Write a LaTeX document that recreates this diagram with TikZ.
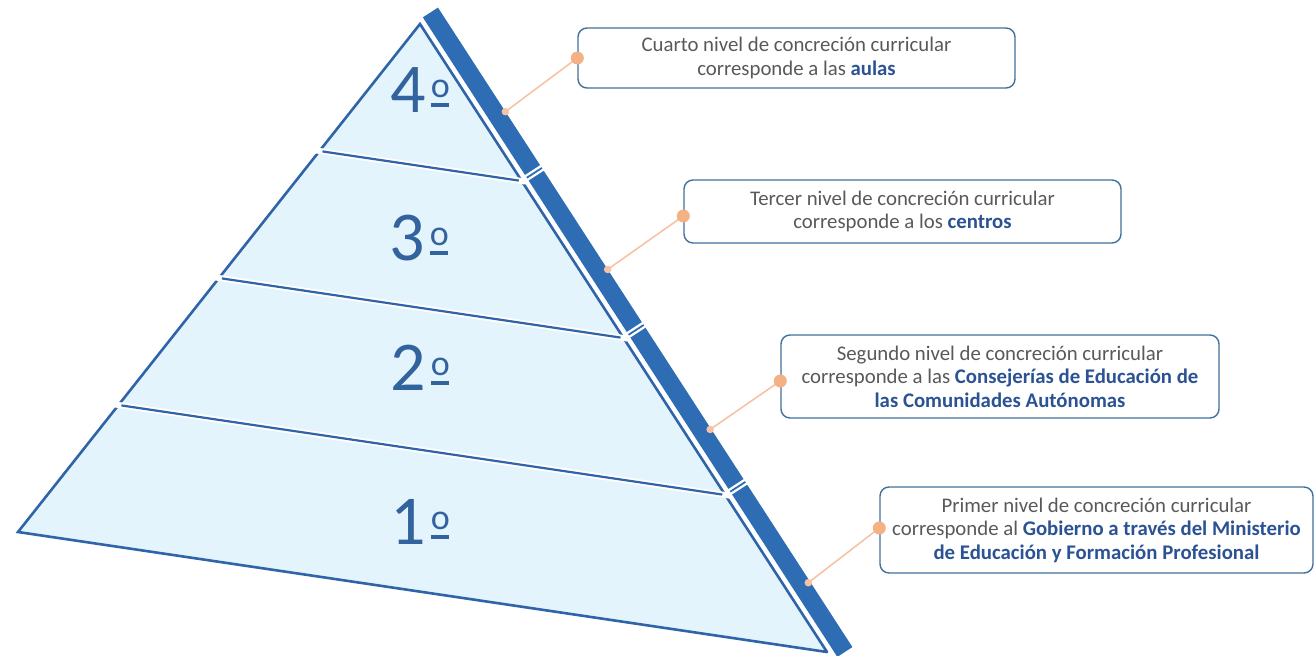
\documentclass[tikz,border=0pt]{standalone}
\usepackage{fontspec}
\setmainfont{Carlito}
\usetikzlibrary{calc}
\definecolor{pblue}{HTML}{2E6DB4}
\definecolor{pline}{HTML}{2F64A8}
\definecolor{pfill}{HTML}{E4F4FC}
\definecolor{numc}{HTML}{33639E}
\definecolor{txtg}{HTML}{595959}
\definecolor{boldb}{HTML}{2B5394}
\definecolor{boxb}{HTML}{41719C}
\definecolor{peach}{HTML}{F4B183}
\definecolor{peachl}{HTML}{F6C3A4}
\newcommand\defbp[3]{\coordinate (#1) at ({420+0.5439*(#2)+0.8392*(#3)},{24+0.8392*(#2)-0.5439*(#3)});}
\newcommand\bl[1]{{\bfseries\color{boldb}#1}}
\newcommand\ordm{\kern5pt\rlap{\kern0.5pt\rule[5.5pt]{18pt}{3.6pt}}\raisebox{14.5pt}{\fontsize{36}{36}\selectfont o}}
\tikzset{
  edge/.style={draw=pline, line width=2.6pt, line cap=round},
  divw/.style={draw=white, line width=6pt},
  divb/.style={draw=pline, line width=2.2pt},
  cutw/.style={draw=white, line width=6.5pt},
  cutb/.style={draw=pblue, line width=1.8pt},
  infobox/.style={draw=boxb, line width=1.4pt, rounded corners=9pt, fill=white,
    align=center, text=txtg, font=\fontsize{20.8}{23.5}\selectfont, inner sep=0pt},
  num/.style={text=numc, font=\fontsize{70}{70}\selectfont, anchor=base, inner sep=0pt},
  conn/.style={draw=peachl, line width=1.6pt},
  bigdot/.style={fill=peach},
  smalldot/.style={fill=peachl}
}
\begin{document}
\begin{tikzpicture}[x=1pt,y=-1pt]
\useasboundingbox (0,0) rectangle (1315,656);
% pyramid corners
\coordinate (A) at (420,24);
\coordinate (C) at (18,532);
\coordinate (B) at (827,652);
\fill[pfill] (A) -- (C) -- (B) -- cycle;
\draw[edge] (B) -- (A) -- (C) -- (B);
% dividers
\foreach \k/\f in {1/0.25,2/0.5,3/0.75}{
  \coordinate (D\k) at ($(A)!\f!(C)$);
  \coordinate (E\k) at ($(A)!\f!(B)$);
  \draw[divw] ($(D\k)!-5pt!(E\k)$) -- ($(E\k)!-4pt!(D\k)$);
  \draw[divb] ($(D\k)!3pt!(E\k)$) -- ($(E\k)!3pt!(D\k)$);
}
% bar
\defbp{b0i}{-4}{6}\defbp{b0o}{-4}{24}\defbp{b1i}{758}{6}\defbp{b1o}{758}{24}
\fill[pblue] (b0i) -- (b0o) -- (b1o) -- (b1i) -- cycle;
\defbp{c1i}{187.1}{3}\defbp{c1o}{187.1}{27}\defbp{c1a}{187.1}{6}\defbp{c1b}{187.1}{24}
\defbp{c2i}{374.2}{3}\defbp{c2o}{374.2}{27}\defbp{c2a}{374.2}{6}\defbp{c2b}{374.2}{24}
\defbp{c3i}{561.2}{3}\defbp{c3o}{561.2}{27}\defbp{c3a}{561.2}{6}\defbp{c3b}{561.2}{24}
\foreach \k in {1,2,3}{
  \draw[cutw] (c\k i) -- (c\k o);
  \draw[cutb] (c\k a) -- (c\k b);
}
% numbers
\node[num] (n4) at (420,112) {4\ordm};
\node[num] (n3) at (419,260) {3\ordm};
\node[num] (n2) at (420,390) {2\ordm};
\node[num] (n1) at (420,544) {1\ordm};
% boxes
\node[infobox, minimum width=437pt, minimum height=60pt] (t4) at (796.5,58)
  {Cuarto nivel de concreción curricular\\corresponde a las \bl{aulas}};
\node[infobox, minimum width=437pt, minimum height=63pt] (t3) at (902.5,211.5)
  {Tercer nivel de concreción curricular\\corresponde a los \bl{centros}};
\node[infobox, minimum width=438pt, minimum height=83pt] (t2) at (1000,376.5)
  {Segundo nivel de concreción curricular\\corresponde a las \bl{Consejerías de Educación de}\\\bl{las Comunidades Autónomas}};
\node[infobox, minimum width=433pt, minimum height=86pt] (t1) at (1096.5,530)
  {Primer nivel de concreción curricular\\corresponde al \bl{Gobierno a través del Ministerio}\\\bl{de Educación y Formación Profesional}};
% dot positions on the boxes
\coordinate (s4) at ($(t4.west)+(0,0)$);
\coordinate (s3) at ($(t3.west)+(0,4.5)$);
\coordinate (s2) at ($(t2.west)+(0,4.5)$);
\coordinate (s1) at ($(t1.west)+(0,-2)$);
% connector ends on bar
\defbp{e4}{120}{24}\defbp{e3}{308}{24}\defbp{e2}{498}{23}\defbp{e1}{680}{22}
\foreach \k in {1,2,3,4}{
  \draw[conn] (s\k) -- (e\k);
  \fill[bigdot] (s\k) circle (6.5);
  \fill[smalldot] (e\k) circle (3.8);
}
\end{tikzpicture}
\end{document}
